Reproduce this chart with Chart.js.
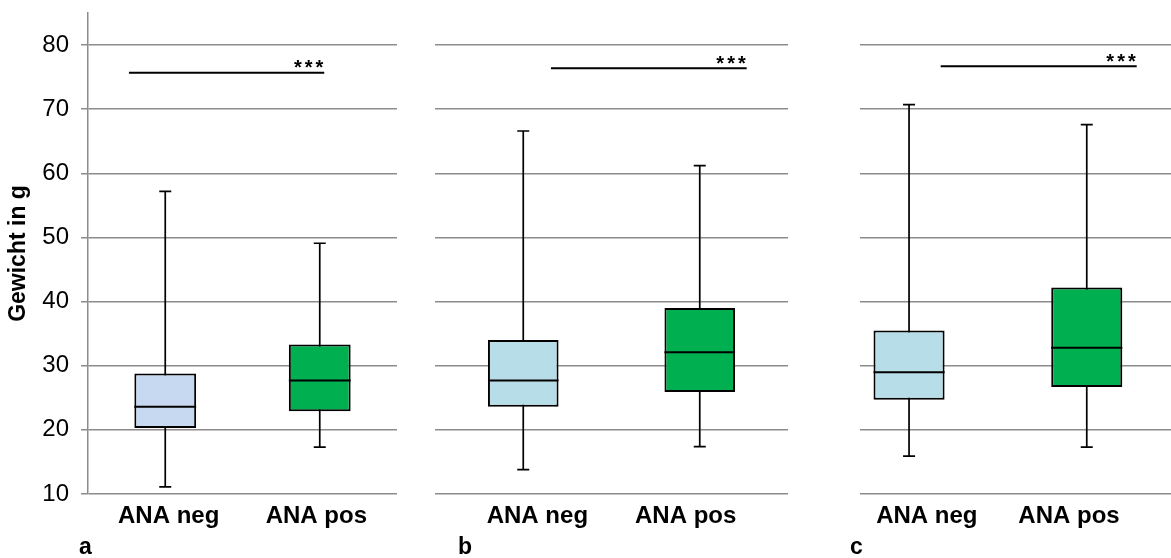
<!DOCTYPE html>
<html>
<head>
<meta charset="utf-8">
<script src="https://cdn.jsdelivr.net/npm/chart.js@4.4.1/dist/chart.umd.min.js"></script>
<style>
  html, body { margin: 0; padding: 0; background: #fff; overflow: hidden; }
  body { width: 1171px; height: 558px; position: relative; }
  .panel { position: absolute; top: 0; }
  .tag { position: absolute; top: 535px; font: bold 23px "Liberation Sans", Arial, sans-serif; line-height: 23px; color: #000; }
</style>
</head>
<body>
<div class="panel" style="left:0"><canvas id="panelA" width="400" height="558"></canvas></div>
<div class="panel" style="left:400px"><canvas id="panelB" width="390" height="558"></canvas></div>
<div class="panel" style="left:790px"><canvas id="panelC" width="381" height="558"></canvas></div>
<div class="tag" style="left:79px">a</div>
<div class="tag" style="left:458px">b</div>
<div class="tag" style="left:850px">c</div>
<script>
// Groups shown in every panel
const categories = ['ANA neg', 'ANA pos'];
const yTicks = [10, 20, 30, 40, 50, 60, 70, 80];
const yTitle = 'Gewicht in g';
const sigText = '***';

// Panel a: five-number summaries per group (g)
const aMin    = [11.1, 17.3];
const aQ1     = [20.3, 22.9];
const aMedian = [23.6, 27.7];
const aQ3     = [28.8, 33.3];
const aMax    = [57.2, 49.1];
const aSigLevel = 75.7;

// Panel b
const bMin    = [13.8, 17.4];
const bQ1     = [23.6, 25.9];
const bMedian = [27.7, 32.1];
const bQ3     = [34.0, 39.0];
const bMax    = [66.6, 61.2];
const bSigLevel = 76.4;

// Panel c
const cMin    = [15.9, 17.3];
const cQ1     = [24.7, 26.7];
const cMedian = [29.0, 32.8];
const cQ3     = [35.5, 42.2];
const cMax    = [70.7, 67.6];
const cSigLevel = 76.7;

const FONT = '"Liberation Sans", Arial, sans-serif';
const GRID = '#8c8c8c';

// Whisker stems, caps, medians and the significance stars
const boxPlugin = {
  id: 'boxParts',
  beforeDatasetsDraw(chart, args, o) {
    const ctx = chart.ctx, ys = chart.scales.y;
    const bars = chart.getDatasetMeta(0).data;
    ctx.save();
    ctx.strokeStyle = '#000';
    ctx.lineWidth = 1.7;
    bars.forEach((bar, i) => {
      const yTop = ys.getPixelForValue(o.max[i]);
      const yBot = ys.getPixelForValue(o.min[i]);
      ctx.beginPath();
      ctx.moveTo(bar.x, yTop); ctx.lineTo(bar.x, yBot);
      ctx.moveTo(bar.x - o.cap, yTop); ctx.lineTo(bar.x + o.cap, yTop);
      ctx.moveTo(bar.x - o.cap, yBot); ctx.lineTo(bar.x + o.cap, yBot);
      ctx.stroke();
    });
    ctx.restore();
  },
  afterDatasetsDraw(chart, args, o) {
    const ctx = chart.ctx, ys = chart.scales.y, xs = chart.scales.x;
    const bars = chart.getDatasetMeta(0).data;
    ctx.save();
    ctx.strokeStyle = '#000';
    ctx.lineWidth = 2;
    bars.forEach((bar, i) => {
      const y = ys.getPixelForValue(o.median[i]);
      ctx.beginPath();
      ctx.moveTo(bar.x - bar.width / 2, y);
      ctx.lineTo(bar.x + bar.width / 2, y);
      ctx.stroke();
    });
    ctx.fillStyle = '#000';
    ctx.font = 'bold 20px ' + FONT;
    ctx.textAlign = 'right';
    ctx.textBaseline = 'alphabetic';
    let trail = 0;
    if ('letterSpacing' in ctx) { ctx.letterSpacing = '3px'; trail = 3; }
    ctx.fillText(o.sig.text, xs.getPixelForValue(o.sig.to) + trail - 1, ys.getPixelForValue(o.sig.level) + 1.5);
    ctx.restore();
  }
};

function makePanel(id, s, fills, layout) {
  const showAxis = layout.showAxis;
  return new Chart(document.getElementById(id), {
    type: 'bar',
    data: {
      datasets: [
        {
          data: categories.map((c, i) => ({ x: i + 1, y: [s.q1[i], s.q3[i]] })),
          backgroundColor: fills,
          borderColor: '#000',
          borderWidth: 2,
          borderSkipped: false,
          barPercentage: 0.4,
          categoryPercentage: 1,
          xAxisID: 'x',
          yAxisID: 'y'
        },
        {
          type: 'line',
          data: [{ x: layout.sigFrom, y: s.sigLevel }, { x: layout.sigTo, y: s.sigLevel }],
          borderColor: '#000',
          borderWidth: 2,
          pointRadius: 0,
          xAxisID: 'x',
          yAxisID: 'y'
        }
      ]
    },
    options: {
      responsive: false,
      devicePixelRatio: 1,
      animation: false,
      events: [],
      layout: { padding: { left: 0, right: layout.padRight, top: 13, bottom: 0 } },
      plugins: {
        legend: { display: false },
        tooltip: { enabled: false },
        boxParts: {
          min: s.min, median: s.median, max: s.max, cap: 6,
          sig: { text: sigText, to: layout.sigTo, level: s.sigLevel }
        }
      },
      scales: {
        x: {
          type: 'linear', position: 'bottom',
          min: layout.xMin, max: layout.xMax,
          offset: false,
          afterBuildTicks: sc => { sc.ticks = categories.map((c, i) => ({ value: i + 1 })); },
          ticks: { display: false },
          grid: { display: false, offset: false },
          border: { display: false },
          afterFit: sc => { sc.height = 0; sc.paddingLeft = 0; sc.paddingRight = 0; }
        },
        xl: {
          type: 'linear', position: 'bottom',
          min: layout.xMin, max: layout.xMax,
          offset: false,
          afterBuildTicks: sc => {
            sc.ticks = categories.map((c, i) => ({ value: i + 1 + (i === 0 ? layout.labelInset : -layout.labelInset) }));
          },
          ticks: {
            callback: (v, i) => categories[i],
            autoSkip: false, maxRotation: 0,
            color: '#000',
            font: { family: FONT, size: 24, weight: 'bold', lineHeight: 1 },
            padding: 10
          },
          grid: { display: false, drawTicks: false, offset: false },
          border: { display: false },
          afterFit: sc => { sc.height = 64; sc.paddingLeft = 0; sc.paddingRight = 0; }
        },
        y: {
          type: 'linear', position: 'left',
          min: 10, max: 85,
          afterBuildTicks: sc => { sc.ticks = yTicks.map(v => ({ value: v })); },
          ticks: {
            display: showAxis,
            color: '#000',
            font: { family: FONT, size: 24, lineHeight: 1 },
            padding: 12
          },
          grid: { color: GRID, lineWidth: 1.5, drawTicks: showAxis, tickLength: 7 },
          border: { display: showAxis, color: GRID, width: 1.5 },
          title: {
            display: showAxis,
            text: yTitle,
            color: '#000',
            font: { family: FONT, size: 23, weight: 'bold' },
            padding: { top: 5, bottom: 0 }
          },
          afterFit: sc => { sc.width = layout.yWidth; sc.paddingTop = 0; sc.paddingBottom = 0; }
        }
      }
    },
    plugins: [boxPlugin]
  });
}

const negA = '#c6d9f1', negBC = '#b7dee8', pos = '#00b050';

makePanel('panelA',
  { min: aMin, q1: aQ1, median: aMedian, q3: aQ3, max: aMax, sigLevel: aSigLevel },
  [negA, pos],
  { showAxis: true, yWidth: 88, padRight: 3, xMin: 0.5, xMax: 2.5, labelInset: 0.022, sigFrom: 0.765, sigTo: 2.029 });

makePanel('panelB',
  { min: bMin, q1: bQ1, median: bMedian, q3: bQ3, max: bMax, sigLevel: bSigLevel },
  [negBC, pos],
  { showAxis: false, yWidth: 35, padRight: 2, xMin: 0.5, xMax: 2.5, labelInset: 0.08, sigFrom: 1.157, sigTo: 2.266 });

makePanel('panelC',
  { min: cMin, q1: cQ1, median: cMedian, q3: cQ3, max: cMax, sigLevel: cSigLevel },
  [negBC, pos],
  { showAxis: false, yWidth: 70, padRight: 0, xMin: 0.724, xMax: 2.474, labelInset: 0.10, sigFrom: 1.178, sigTo: 2.281 });
</script>
</body>
</html>
